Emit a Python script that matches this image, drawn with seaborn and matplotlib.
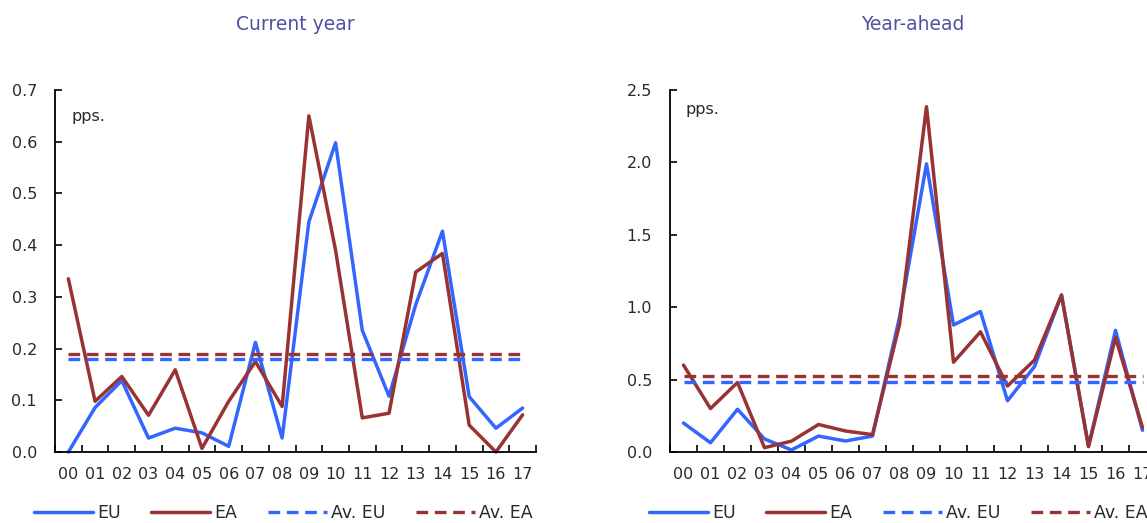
import numpy as np
import seaborn as sns
from matplotlib import pyplot as plt, ticker

years = ["00", "01", "02", "03", "04", "05", "06", "07", "08",
         "09", "10", "11", "12", "13", "14", "15", "16", "17"]

# current year revisions (pps.)
cur_eu = [0.000, 0.086, 0.138, 0.027, 0.046, 0.037, 0.011, 0.212, 0.027,
          0.445, 0.598, 0.235, 0.108, 0.285, 0.427, 0.107, 0.046, 0.085]
cur_ea = [0.335, 0.098, 0.146, 0.071, 0.159, 0.007, 0.098, 0.175, 0.088,
          0.650, 0.390, 0.066, 0.075, 0.348, 0.384, 0.052, 0.000, 0.072]
cur_av_eu = 0.179
cur_av_ea = 0.189

# year-ahead revisions (pps.)
ahead_eu = [0.20, 0.064, 0.295, 0.09, 0.014, 0.11, 0.076, 0.11, 0.93,
            1.99, 0.877, 0.97, 0.354, 0.59, 1.084, 0.04, 0.84, 0.15]
ahead_ea = [0.60, 0.30, 0.48, 0.03, 0.075, 0.19, 0.145, 0.12, 0.88,
            2.385, 0.62, 0.83, 0.456, 0.635, 1.084, 0.037, 0.79, 0.17]
ahead_av_eu = 0.481
ahead_av_ea = 0.525

labels = ["EU", "EA", "Av. EU", "Av. EA"]
blue = "#3366ff"
red = "#993333"
title_color = "#4f51a3"
text_color = "#2a2a2a"

sns.set_theme(style="white")
plt.rcParams['font.family'] = ['DejaVu Sans']
plt.rcParams['text.color'] = text_color

fig = plt.figure(figsize=(11.47, 5.23), dpi=100)
ax1 = fig.add_axes([55 / 1147, 1 - 452 / 523, 481 / 1147, 362 / 523])
ax2 = fig.add_axes([670 / 1147, 1 - 452 / 523, 486 / 1147, 362 / 523])


def draw(ax, eu, ea, av_eu, av_ea, ymax, step):
    n = len(years)
    sns.lineplot(x=years, y=eu, color=blue, lw=2.5, label=labels[0], ax=ax, clip_on=False)
    sns.lineplot(x=years, y=ea, color=red, lw=2.5, label=labels[1], ax=ax, clip_on=False)
    sns.lineplot(x=years, y=[av_eu] * n, color=blue, lw=2.4, label=labels[2], ax=ax,
                 linestyle=(0, (3.5, 2)))
    sns.lineplot(x=years, y=[av_ea] * n, color=red, lw=2.4, label=labels[3], ax=ax,
                 linestyle=(0, (3.5, 2)))
    ax.set_xlim(-0.5, n - 0.5)
    ax.set_ylim(0, ymax)
    ax.yaxis.set_major_locator(ticker.MultipleLocator(step))
    ax.yaxis.set_major_formatter(ticker.FormatStrFormatter('%.1f'))
    ax.set_xticks(np.arange(-0.5, n), minor=True)
    ax.tick_params(axis='x', which='major', length=0, pad=11, labelsize=11.5, colors=text_color)
    ax.tick_params(axis='x', which='minor', direction='in', length=5, width=1.2, bottom=True, color='black')
    ax.tick_params(axis='y', which='major', direction='in', length=5, width=1.2, left=True,
                   pad=13, labelsize=11.5, colors=text_color)
    ax.tick_params(axis='y', color='black')
    for s in ['top', 'right']:
        ax.spines[s].set_visible(False)
    for s in ['left', 'bottom']:
        ax.spines[s].set_color('black')
        ax.spines[s].set_linewidth(1.3)
    ax.set(xlabel="", ylabel="")
    ax.legend(loc='center left', bbox_to_anchor=(-0.044, -0.168), ncol=4, frameon=False,
              borderaxespad=0, borderpad=0, handlelength=3.4, handletextpad=0.25,
              columnspacing=1.75, fontsize=12.5)


draw(ax1, cur_eu, cur_ea, cur_av_eu, cur_av_ea, 0.7, 0.1)
draw(ax2, ahead_eu, ahead_ea, ahead_av_eu, ahead_av_ea, 2.5, 0.5)

ax1.text(0.035, 0.928, "pps.", transform=ax1.transAxes, fontsize=11.5, va='center')
ax2.text(0.031, 0.947, "pps.", transform=ax2.transAxes, fontsize=11.5, va='center')

fig.text(295 / 1147, 1 - 24 / 523, "Current year", ha='center', va='center',
         fontsize=13.5, color=title_color)
fig.text(913 / 1147, 1 - 24 / 523, "Year-ahead", ha='center', va='center',
         fontsize=13.5, color=title_color)

plt.savefig("out.png", dpi=100)
